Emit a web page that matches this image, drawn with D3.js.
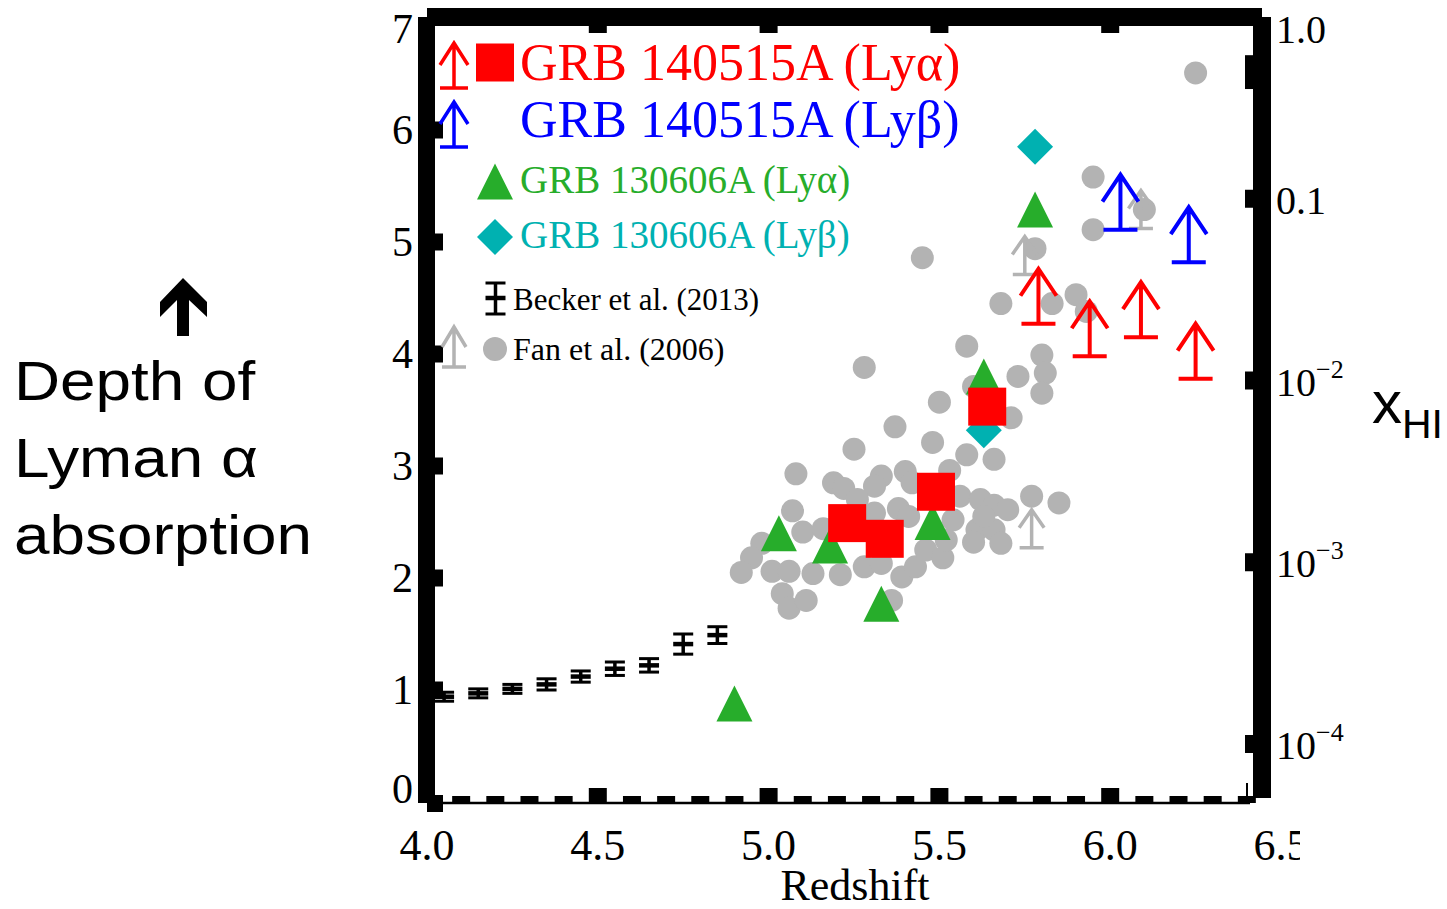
<!DOCTYPE html>
<html lang="en">
<head>
<meta charset="utf-8">
<title>Depth of Lyman alpha absorption vs redshift</title>
<style>
body { margin: 0; background: #fff; }
svg { display: block; }
.serif { font-family: "Liberation Serif", "Times New Roman", serif; }
.sans { font-family: "Liberation Sans", Arial, sans-serif; }
</style>
</head>
<body>
<div id="chart"></div>
<script src="https://cdn.jsdelivr.net/npm/d3@7"></script>
<script>
// Becker et al. (2013) effective optical depth
var beckerZ = [4.05, 4.15, 4.25, 4.35, 4.45, 4.55, 4.65, 4.75, 4.85];
var beckerTau = [0.94, 0.97, 1.01, 1.05, 1.12, 1.19, 1.22, 1.41, 1.49];
var beckerErr = [0.04, 0.04, 0.04, 0.05, 0.05, 0.06, 0.06, 0.09, 0.075];

// Fan et al. (2006) quasar sightlines
var fanZ = [6.25, 5.95, 5.95, 6.10, 5.78, 5.45, 5.68, 5.83, 5.90, 5.93,
	5.58, 5.28, 5.80, 5.81, 5.80, 5.73, 5.60, 5.50, 5.71, 5.37,
	5.48, 5.25, 5.58, 5.66, 5.08, 5.40, 5.33, 5.31, 5.53, 5.19,
	5.22, 5.26, 5.42, 5.56, 5.62, 5.66, 5.70, 5.77, 5.85, 5.38,
	5.31, 5.07, 5.10, 5.16, 5.41, 5.54, 5.61, 5.66, 5.63, 5.68,
	5.60, 4.98, 4.95, 4.92, 5.01, 5.06, 5.13, 5.21, 5.28, 5.33,
	5.39, 5.43, 5.46, 5.51, 5.52, 5.04, 5.06, 5.11, 5.36];
var fanTau = [6.51, 5.58, 5.11, 5.29, 4.94, 4.86, 4.45, 4.45, 4.53, 4.38,
	4.07, 3.88, 3.99, 3.83, 3.65, 3.80, 3.71, 3.57, 3.43, 3.35,
	3.21, 3.15, 3.10, 3.06, 2.93, 2.95, 2.91, 2.82, 2.96, 2.85,
	2.80, 2.70, 2.85, 2.73, 2.70, 2.65, 2.61, 2.73, 2.67, 2.62,
	2.58, 2.60, 2.41, 2.44, 2.55, 2.52, 2.43, 2.43, 2.55, 2.31,
	2.32, 2.31, 2.18, 2.05, 2.06, 2.06, 2.04, 2.03, 2.10, 2.13,
	2.01, 2.10, 2.25, 2.18, 2.34, 1.86, 1.73, 1.80, 1.80];
var fanLimZ = [5.75, 5.77, 6.09];
var fanLimTau = [4.71, 2.27, 5.12];

// GRB 140515A
var alpha140515Z = [5.23, 5.34, 5.49, 5.64];
var alpha140515Tau = [2.49, 2.35, 2.77, 3.53];
var alpha140515LimZ = [5.79, 5.94, 6.09, 6.25];
var alpha140515LimTau = [4.27, 3.98, 4.15, 3.78];
var beta140515LimZ = [6.03, 6.23];
var beta140515LimTau = [5.11, 4.82];

// GRB 130606A
var alpha130606Z = [4.90, 5.03, 5.18, 5.33, 5.48, 5.63, 5.78];
var alpha130606Tau = [0.88, 2.40, 2.29, 1.77, 2.50, 3.80, 5.29];
var beta130606Z = [5.63, 5.78];
var beta130606Tau = [3.32, 5.85];

// axes
var xTicks = [4.0, 4.5, 5.0, 5.5, 6.0, 6.5];
var xTickLabels = ["4.0", "4.5", "5.0", "5.5", "6.0", "6.5"];
var yTicks = [0, 1, 2, 3, 4, 5, 6, 7];
var xhiTicks = [1, 0.1, 0.01, 0.001, 0.0001];
var xhiTickLabels = ["1.0", "0.1", "10|−2", "10|−3", "10|−4"];
var xhiMinorTicks = [0.45, 0.55];

var RED = "#ff0000", BLUE = "#0000ff", GREEN = "#27ad2b", CYAN = "#00b1b1", GRAY = "#b3b3b3";

var svg = d3.select("#chart").append("svg").attr("width", 1447).attr("height", 909);

var x = d3.scaleLinear().domain([4, 6.5]).range([427, 1281]);
var y = d3.scaleLinear().domain([0, 7]).range([802, 18]);
var yR = d3.scaleLog().domain([1e-4, 1]).range([744, 17]);

var plotL = 427, plotR = 1262, plotT = 17, plotB = 803;

function limitPath(cx, by, h, bw, hw, hh) {
	var ty = by - h;
	return "M" + (cx - bw / 2) + "," + by + "H" + (cx + bw / 2) +
		"M" + cx + "," + by + "V" + ty +
		"M" + (cx - hw) + "," + (ty + hh) + "L" + cx + "," + ty + "L" + (cx + hw) + "," + (ty + hh);
}
function triPath(cx, cy, s) {
	return "M" + cx + "," + (cy - s / 2) + "L" + (cx + s / 2) + "," + (cy + s / 2) + "L" + (cx - s / 2) + "," + (cy + s / 2) + "Z";
}
function diaPath(cx, cy, s) {
	return "M" + cx + "," + (cy - s) + "L" + (cx + s) + "," + cy + "L" + cx + "," + (cy + s) + "L" + (cx - s) + "," + cy + "Z";
}
function beckerMark(g, cx, cy, lo, hi) {
	g.append("line").attr("x1", cx).attr("x2", cx).attr("y1", lo).attr("y2", hi)
		.attr("stroke", "#000").attr("stroke-width", 3.5);
	[lo, hi].forEach(function(v) {
		g.append("line").attr("x1", cx - 10).attr("x2", cx + 10).attr("y1", v).attr("y2", v)
			.attr("stroke", "#000").attr("stroke-width", 3);
	});
	g.append("line").attr("x1", cx - 10).attr("x2", cx + 10).attr("y1", cy).attr("y2", cy)
		.attr("stroke", "#000").attr("stroke-width", 4.5);
}

// ---- data marks ----
var marks = svg.append("g");

marks.selectAll("circle.fan").data(fanZ).enter().append("circle")
	.attr("cx", function(d) { return x(d); })
	.attr("cy", function(d, i) { return y(fanTau[i]); })
	.attr("r", 11.5).attr("fill", GRAY);

fanLimZ.forEach(function(z, i) {
	marks.append("path").attr("d", limitPath(x(z), y(fanLimTau[i]), 38, 24, 12.5, 18))
		.attr("fill", "none").attr("stroke", GRAY).attr("stroke-width", 3.5);
});

beckerZ.forEach(function(z, i) {
	beckerMark(marks, x(z), y(beckerTau[i]), y(beckerTau[i] - beckerErr[i]), y(beckerTau[i] + beckerErr[i]));
});

alpha130606Z.forEach(function(z, i) {
	marks.append("path").attr("d", triPath(x(z), y(alpha130606Tau[i]), 36)).attr("fill", GREEN);
});
beta130606Z.forEach(function(z, i) {
	marks.append("path").attr("d", diaPath(x(z), y(beta130606Tau[i]), 18)).attr("fill", CYAN);
});
alpha140515Z.forEach(function(z, i) {
	marks.append("rect").attr("x", x(z) - 19).attr("y", y(alpha140515Tau[i]) - 19)
		.attr("width", 38).attr("height", 38).attr("fill", RED);
});
alpha140515LimZ.forEach(function(z, i) {
	marks.append("path").attr("d", limitPath(x(z), y(alpha140515LimTau[i]), 55, 34, 18, 27))
		.attr("fill", "none").attr("stroke", RED).attr("stroke-width", 4);
});
beta140515LimZ.forEach(function(z, i) {
	marks.append("path").attr("d", limitPath(x(z), y(beta140515LimTau[i]), 55, 34, 18, 27))
		.attr("fill", "none").attr("stroke", BLUE).attr("stroke-width", 4);
});

// ---- frame ----
var frame = svg.append("g");
frame.append("rect").attr("x", plotL).attr("y", 8).attr("width", plotR - plotL).attr("height", 18);
frame.append("rect").attr("x", 418).attr("y", plotT).attr("width", 17).attr("height", plotB - plotT);
frame.append("rect").attr("x", 1253).attr("y", plotT).attr("width", 18).attr("height", 781);
frame.append("line").attr("x1", plotL).attr("x2", 1250).attr("y1", plotB).attr("y2", plotB)
	.attr("stroke", "#000").attr("stroke-width", 2.5);
frame.append("line").attr("x1", 1247).attr("x2", 1247).attr("y1", 783).attr("y2", plotB)
	.attr("stroke", "#000").attr("stroke-width", 2);
frame.append("rect").attr("x", 427).attr("y", 795).attr("width", 16).attr("height", 17);

// bottom ticks
var minorX = d3.range(41, 65).map(function(d) { return d / 10; })
	.filter(function(d) { return xTicks.indexOf(d) < 0; });
frame.selectAll("rect.xminor").data(minorX).enter().append("rect")
	.attr("x", function(d) { return x(d) - 9; }).attr("y", 796).attr("width", 18).attr("height", 7);
var majorX = xTicks.slice(1, 5);
frame.selectAll("rect.xmajor").data(majorX).enter().append("rect")
	.attr("x", function(d) { return x(d) - 9; }).attr("y", 788).attr("width", 18).attr("height", 15);
frame.selectAll("rect.xtop").data(majorX).enter().append("rect")
	.attr("x", function(d) { return x(d) - 9; }).attr("y", 24).attr("width", 18).attr("height", 9);

// left ticks
frame.selectAll("rect.yt").data(yTicks.slice(1, 7)).enter().append("rect")
	.attr("x", 434).attr("y", function(d) { return y(d) - 8.5; }).attr("width", 9).attr("height", 17);

// right ticks
frame.selectAll("rect.rt").data(xhiTicks.slice(1).concat(xhiMinorTicks)).enter().append("rect")
	.attr("x", 1245).attr("y", function(d) { return yR(d) - 9; }).attr("width", 9).attr("height", 18);

// ---- tick labels ----
var clip = svg.append("clipPath").attr("id", "xclip");
clip.append("rect").attr("x", 0).attr("y", 0).attr("width", 1300).attr("height", 909);

svg.append("g").attr("clip-path", "url(#xclip)").selectAll("text").data(xTicks).enter().append("text")
	.attr("class", "serif").attr("x", function(d) { return x(d); }).attr("y", 860)
	.attr("text-anchor", "middle").attr("font-size", 44)
	.text(function(d, i) { return xTickLabels[i]; });

svg.append("g").selectAll("text").data(yTicks).enter().append("text")
	.attr("class", "serif").attr("x", 413)
	.attr("y", function(d) { return Math.min(Math.max(y(d), 29), 789) + 14; })
	.attr("text-anchor", "end").attr("font-size", 42)
	.text(function(d) { return d; });

var rl = svg.append("g").selectAll("text").data(xhiTicks).enter().append("text")
	.attr("class", "serif").attr("x", 1276)
	.attr("y", function(d) { return Math.max(yR(d), 28) + 15; })
	.attr("font-size", 40);
rl.each(function(d, i) {
	var parts = xhiTickLabels[i].split("|");
	var t = d3.select(this);
	t.append("tspan").text(parts[0]);
	if (parts[1]) t.append("tspan").attr("dy", -18).attr("font-size", 26).text(parts[1]);
});

// ---- axis titles ----
svg.append("text").attr("class", "serif").attr("x", 855).attr("y", 900)
	.attr("text-anchor", "middle").attr("font-size", 44).text("Redshift");

var xhi = svg.append("text").attr("class", "sans").attr("x", 1372).attr("y", 423);
xhi.append("tspan").attr("font-size", 60).text("x");
xhi.append("tspan").attr("font-size", 41).attr("dy", 15).text("HI");

var yl = svg.append("g").attr("transform", "translate(14,0) scale(1.14,1)");
["Depth of", "Lyman α", "absorption"].forEach(function(s, i) {
	yl.append("text").attr("class", "sans").attr("x", 0).attr("y", 400 + i * 77)
		.attr("font-size", 56).text(s);
});
svg.append("path").attr("fill", "#000")
	.attr("d", "M183,278L207,302L207,317L189,300L189,336L177,336L177,300L160,317L160,302Z");

// ---- legend ----
var lg = svg.append("g");
lg.append("path").attr("d", limitPath(454, 88, 45, 28, 14, 22))
	.attr("fill", "none").attr("stroke", RED).attr("stroke-width", 3.5);
lg.append("rect").attr("x", 476).attr("y", 43.5).attr("width", 38).attr("height", 38).attr("fill", RED);
lg.append("text").attr("class", "serif").attr("x", 520).attr("y", 80).attr("font-size", 52)
	.attr("fill", RED).text("GRB 140515A (Lyα)");

lg.append("path").attr("d", limitPath(454, 147, 45, 28, 14, 22))
	.attr("fill", "none").attr("stroke", BLUE).attr("stroke-width", 3.5);
lg.append("text").attr("class", "serif").attr("x", 520).attr("y", 137).attr("font-size", 52)
	.attr("fill", BLUE).text("GRB 140515A (Lyβ)");

lg.append("path").attr("d", triPath(495, 181.5, 36)).attr("fill", GREEN);
lg.append("text").attr("class", "serif").attr("x", 520).attr("y", 193).attr("font-size", 39)
	.attr("fill", GREEN).text("GRB 130606A (Lyα)");

lg.append("path").attr("d", diaPath(495, 237, 18)).attr("fill", CYAN);
lg.append("text").attr("class", "serif").attr("x", 520).attr("y", 248).attr("font-size", 39)
	.attr("fill", CYAN).text("GRB 130606A (Lyβ)");

beckerMark(lg, 495.5, 298, 314, 283);
lg.append("text").attr("class", "serif").attr("x", 513).attr("y", 310).attr("font-size", 31)
	.text("Becker et al. (2013)");

lg.append("path").attr("d", limitPath(454, 367, 40, 24, 12, 20))
	.attr("fill", "none").attr("stroke", GRAY).attr("stroke-width", 3.5);
lg.append("circle").attr("cx", 495).attr("cy", 349).attr("r", 12).attr("fill", GRAY);
lg.append("text").attr("class", "serif").attr("x", 513).attr("y", 360).attr("font-size", 32)
	.text("Fan et al. (2006)");
</script>
</body>
</html>
